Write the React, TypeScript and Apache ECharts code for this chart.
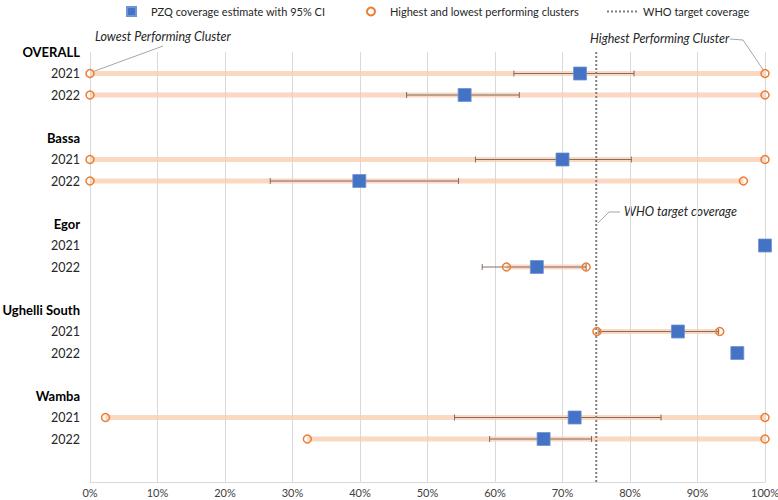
import React, { useEffect, useRef } from "react";
import * as echarts from "echarts";

const groups = ["OVERALL", "Bassa", "Egor", "Ughelli South", "Wamba"];
const years = ["2021", "2022"];
// one value per group/year, in order: OVERALL 2021, OVERALL 2022, Bassa 2021, ...
const estimate = [72.6, 55.5, 70.0, 39.9, 100, 66.2, 87.1, 95.9, 71.8, 67.2];
const ciLow: (number | null)[] = [62.8, 46.9, 57.1, 26.7, null, 58.1, 75.4, null, 54.0, 59.2];
const ciHigh: (number | null)[] = [80.6, 63.6, 80.2, 54.6, null, 73.5, 93.1, null, 84.6, 74.3];
const clusterLow: (number | null)[] = [0, 0, 0, 0, null, 61.7, 75.1, null, 2.3, 32.2];
const clusterHigh: (number | null)[] = [100, 100, 100, 96.8, null, 73.5, 93.3, null, 100, 100];
const whoTarget = 75;
const xTicks = [0, 10, 20, 30, 40, 50, 60, 70, 80, 90, 100];

const FONT = "Lato, 'Open Sans', sans-serif";

const DOTS =
  "path://" +
  Array.from({ length: 8 }, (_, i) => `M${i * 4},0h2v2h-2z`).join(" ");

export default function App() {
  const ref = useRef<HTMLDivElement>(null);

  useEffect(() => {
    if (!ref.current) return;
    const chart = echarts.init(ref.current, undefined, { renderer: "svg" });

    const rowKeys: string[] = [];
    groups.forEach((g) => {
      rowKeys.push("H|" + g);
      years.forEach((y) => rowKeys.push("Y|" + g + "|" + y));
      rowKeys.push("B|" + g);
    });
    rowKeys.push("B|end");

    const rowIndex = (i: number) => {
      const g = Math.floor(i / 2);
      const y = i % 2;
      return g * 4 + 1 + y;
    };

    const estData = estimate.map((v, i) => [v, rowIndex(i)]);
    const circleData: number[][] = [];
    const bandData: number[][] = [];
    const ciData: number[][] = [];
    estimate.forEach((_, i) => {
      const r = rowIndex(i);
      const lo = clusterLow[i];
      const hi = clusterHigh[i];
      if (lo != null && hi != null) {
        circleData.push([lo, r]);
        circleData.push([hi, r]);
        bandData.push([r, lo, hi]);
      }
      const cl = ciLow[i];
      const ch = ciHigh[i];
      if (cl != null && ch != null) ciData.push([r, cl, ch]);
    });

    const legendText = { fontFamily: FONT, fontSize: 11, color: "#262626" };

    const option: any = {
      animation: false,
      textStyle: { fontFamily: FONT },
      grid: { left: 90, right: 13, top: 52, bottom: 18, containLabel: false, outerBoundsMode: "none" },
      legend: [
        {
          data: [{ name: "PZQ coverage estimate with 95% CI", icon: "rect" }],
          left: 121,
          top: 1,
          itemWidth: 9,
          itemHeight: 9,
          textStyle: { ...legendText, padding: [0, 0, 0, 10] },
        },
        {
          data: [{ name: "Highest and lowest performing clusters", icon: "circle" }],
          left: 361,
          top: 1,
          itemWidth: 8,
          itemHeight: 8,
          textStyle: { ...legendText, padding: [0, 0, 0, 10] },
        },
        {
          data: [{ name: "WHO target coverage", icon: DOTS }],
          left: 602,
          top: 1,
          itemWidth: 30,
          itemHeight: 2,
          textStyle: { ...legendText, padding: [0, 0, 0, 1] },
        },
      ],
      xAxis: {
        type: "value",
        min: 0,
        max: 100,
        interval: 10,
        axisLine: { show: true, lineStyle: { color: "#D9D9D9", width: 1 } },
        axisTick: { show: false },
        splitLine: { show: true, lineStyle: { color: "#D9D9D9", width: 1 } },
        axisLabel: {
          formatter: (v: number) => (xTicks.includes(v) ? v + "%" : ""),
          color: "#404040",
          fontSize: 11,
          fontFamily: FONT,
          margin: 5,
        },
      },
      yAxis: {
        type: "category",
        data: rowKeys,
        inverse: true,
        boundaryGap: false,
        axisLine: { show: false },
        axisTick: { show: false },
        splitLine: { show: false },
        axisLabel: {
          interval: 0,
          margin: 10,
          formatter: (v: string) => {
            const parts = v.split("|");
            if (parts[0] === "H") return "{h|" + parts[1] + "}";
            if (parts[0] === "Y") return "{y|" + parts[2] + "}";
            return "";
          },
          rich: {
            h: { fontFamily: FONT, fontSize: 13, fontWeight: "bold", color: "#000000" },
            y: { fontFamily: FONT, fontSize: 12.5, color: "#262626" },
          },
        },
      },
      series: [
        {
          name: "band",
          type: "custom",
          silent: true,
          encode: { x: [1, 2], y: 0 },
          data: bandData,
          z: 1,
          renderItem: (params: any, api: any) => {
            const r = api.value(0);
            const a = api.coord([api.value(1), r]);
            const b = api.coord([api.value(2), r]);
            return {
              type: "rect",
              shape: { x: a[0], y: a[1] - 2.5, width: b[0] - a[0], height: 5 },
              style: { fill: "#F8CBAD", opacity: 0.75 },
            };
          },
        },
        {
          name: "ci",
          type: "custom",
          silent: true,
          encode: { x: [1, 2], y: 0 },
          data: ciData,
          z: 2,
          renderItem: (params: any, api: any) => {
            const r = api.value(0);
            const a = api.coord([api.value(1), r]);
            const b = api.coord([api.value(2), r]);
            const st = { stroke: "rgba(120,95,85,0.9)", lineWidth: 1 };
            return {
              type: "group",
              children: [
                { type: "line", shape: { x1: a[0], y1: a[1], x2: b[0], y2: b[1] }, style: st },
                { type: "line", shape: { x1: a[0], y1: a[1] - 3, x2: a[0], y2: a[1] + 3 }, style: st },
                { type: "line", shape: { x1: b[0], y1: b[1] - 3, x2: b[0], y2: b[1] + 3 }, style: st },
              ],
            };
          },
        },
        {
          name: "WHO target coverage",
          type: "line",
          data: [
            [whoTarget, 0],
            [whoTarget, rowKeys.length - 1],
          ],
          symbol: "none",
          showSymbol: false,
          z: 3,
          itemStyle: { color: "#7F7F7F" },
          lineStyle: { color: "#7F7F7F", width: 2, type: [2, 2] },
        },
        {
          name: "Highest and lowest performing clusters",
          type: "scatter",
          data: circleData,
          symbol: "circle",
          symbolSize: 8,
          z: 4,
          itemStyle: { color: "rgba(255,255,255,0)", borderColor: "#ED7D31", borderWidth: 1.5, opacity: 1 },
        },
        {
          name: "PZQ coverage estimate with 95% CI",
          type: "scatter",
          data: estData,
          symbol: "rect",
          symbolSize: 13,
          z: 5,
          itemStyle: { color: "#4472C4", borderColor: "#6F93D6", borderWidth: 0.8, opacity: 1 },
        },
      ],
      graphic: [
        {
          type: "text",
          left: 95,
          top: 30,
          style: { text: "Lowest Performing Cluster", font: "italic 12.5px " + FONT, fill: "#262626" },
        },
        {
          type: "polyline",
          shape: { points: [[163, 46], [92, 72]] },
          style: { stroke: "#A6A6A6", lineWidth: 1, fill: "none" },
        },
        {
          type: "text",
          left: 590,
          top: 32,
          style: { text: "Highest Performing Cluster", font: "italic 12.5px " + FONT, fill: "#262626" },
        },
        {
          type: "polyline",
          shape: { points: [[730, 39], [743, 40], [764, 71]] },
          style: { stroke: "#A6A6A6", lineWidth: 1, fill: "none" },
        },
        {
          type: "text",
          left: 624,
          top: 205,
          style: { text: "WHO target coverage", font: "italic 12.5px " + FONT, fill: "#262626" },
        },
        {
          type: "polyline",
          shape: { points: [[598, 223], [609, 212], [620, 212]] },
          style: { stroke: "#A6A6A6", lineWidth: 1, fill: "none" },
        },
      ],
    };

    chart.setOption(option);
    return () => chart.dispose();
  }, []);

  return <div ref={ref} style={{ width: 778, height: 500, position: "absolute", left: 0, top: 0 }} />;
}
